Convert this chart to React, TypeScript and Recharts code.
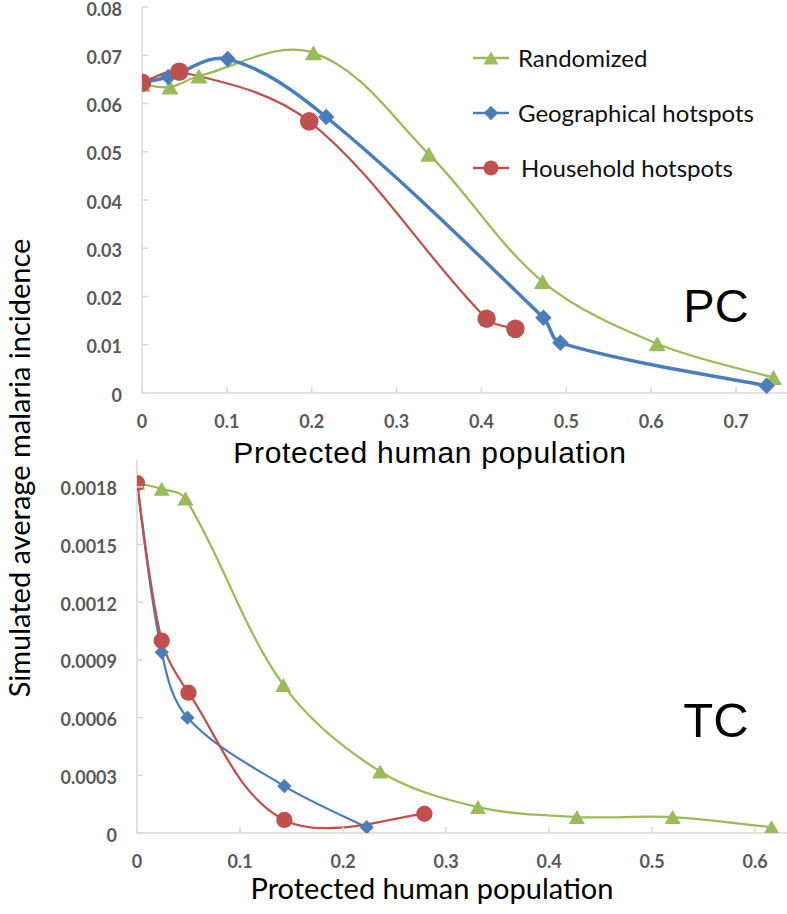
import React from 'react';
import { LineChart, Line, XAxis, YAxis, Legend } from 'recharts';

const seriesNames = ['Randomized', 'Geographical hotspots', 'Household hotspots'];
const seriesColors = ['#9bbb59', '#4a7ebb', '#c0504d'];
const seriesMarkers = ['triangle', 'diamond', 'circle'];

// PC panel
const pcRandomizedX = [0, 0.033, 0.067, 0.202, 0.338, 0.472, 0.607, 0.744];
const pcRandomizedY = [0.064, 0.0634, 0.0657, 0.0705, 0.0495, 0.0231, 0.0102, 0.0032];
const pcGeoX = [0, 0.031, 0.101, 0.217, 0.473, 0.493, 0.736];
const pcGeoY = [0.0643, 0.0655, 0.0692, 0.0572, 0.0156, 0.0104, 0.0015];
const pcHouseX = [0, 0.044, 0.197, 0.406, 0.44];
const pcHouseY = [0.0643, 0.0666, 0.0563, 0.0154, 0.0133];

// TC panel
const tcRandomizedX = [0, 0.024, 0.047, 0.142, 0.236, 0.331, 0.427, 0.52, 0.616];
const tcRandomizedY = [0.00182, 0.00179, 0.00174, 0.00077, 0.00032, 0.000135, 0.000083, 0.000083, 0.00003];
const tcGeoX = [0, 0.024, 0.049, 0.143, 0.223];
const tcGeoY = [0.00182, 0.00094, 0.0006, 0.000244, 0.00003];
const tcHouseX = [0, 0.024, 0.05, 0.143, 0.279];
const tcHouseY = [0.00182, 0.001, 0.00073, 0.000068, 0.0001];

const pcXTicks = [0, 0.1, 0.2, 0.3, 0.4, 0.5, 0.6, 0.7];
const pcYTicks = [0, 0.01, 0.02, 0.03, 0.04, 0.05, 0.06, 0.07, 0.08];
const tcXTicks = [0, 0.1, 0.2, 0.3, 0.4, 0.5, 0.6];
const tcYTicks = [0, 0.0003, 0.0006, 0.0009, 0.0012, 0.0015, 0.0018];

const xTitle = 'Protected human population';
const yTitle = 'Simulated average malaria incidence';

const zip = (xs: number[], ys: number[]) => xs.map((x, i) => ({ x, y: ys[i] }));

const pcSeries = [zip(pcRandomizedX, pcRandomizedY), zip(pcGeoX, pcGeoY), zip(pcHouseX, pcHouseY)];
const tcSeries = [zip(tcRandomizedX, tcRandomizedY), zip(tcGeoX, tcGeoY), zip(tcHouseX, tcHouseY)];

// Excel-like smoothed line: tangent direction from neighbours, length scaled by segment length
function excelCurve(context: any) {
  let pts: [number, number][] = [];
  const unit = (a: [number, number], b: [number, number]) => {
    const dx = b[0] - a[0];
    const dy = b[1] - a[1];
    const l = Math.hypot(dx, dy) || 1;
    return [dx / l, dy / l];
  };
  return {
    areaStart() {},
    areaEnd() {},
    lineStart() {
      pts = [];
    },
    lineEnd() {
      const n = pts.length;
      if (!n) return;
      context.moveTo(pts[0][0], pts[0][1]);
      if (n === 1) return;
      const tang = pts.map((p, i) => unit(pts[i > 0 ? i - 1 : i], pts[i < n - 1 ? i + 1 : i]));
      for (let i = 0; i < n - 1; i++) {
        const p1 = pts[i];
        const p2 = pts[i + 1];
        const L = Math.hypot(p2[0] - p1[0], p2[1] - p1[1]);
        const k1 = i === 0 ? L / 6 : L / 3;
        const k2 = i + 1 === n - 1 ? L / 6 : L / 3;
        context.bezierCurveTo(
          p1[0] + tang[i][0] * k1,
          p1[1] + tang[i][1] * k1,
          p2[0] - tang[i + 1][0] * k2,
          p2[1] - tang[i + 1][1] * k2,
          p2[0],
          p2[1]
        );
      }
    },
    point(x: number, y: number) {
      pts.push([+x, +y]);
    },
  };
}

function Marker({ kind, cx, cy, color, s }: { kind: string; cx: number; cy: number; color: string; s: number }) {
  if (kind === 'triangle') {
    const w = s * 1.15;
    const h = s;
    return <path d={`M${cx},${cy - h / 2}L${cx + w / 2},${cy + h / 2}L${cx - w / 2},${cy + h / 2}Z`} fill={color} />;
  }
  if (kind === 'diamond') {
    const r = s * 0.55;
    return <path d={`M${cx},${cy - r}L${cx + r},${cy}L${cx},${cy + r}L${cx - r},${cy}Z`} fill={color} />;
  }
  return <circle cx={cx} cy={cy} r={s * 0.58} fill={color} />;
}

const tickFont = { fontFamily: 'Lato', fontWeight: 700, fontSize: 18, fill: '#595959' };
const axisStroke = '#d9d9d9';

const makeXTick = (fmt: (v: number) => string) => (props: any) => {
  const { x, y, payload } = props;
  return (
    <g>
      <line x1={x} x2={x} y1={y} y2={y - 6} stroke={axisStroke} strokeWidth={1.5} />
      <text x={x} y={y + 28} textAnchor="middle" dominantBaseline="central" {...tickFont}>
        {fmt(payload.value)}
      </text>
    </g>
  );
};

const makeYTick = (fmt: (v: number) => string, gap: number) => (props: any) => {
  const { x, y, payload } = props;
  return (
    <g>
      <line x1={x} x2={x + 6} y1={y} y2={y} stroke={axisStroke} strokeWidth={1.5} />
      <text x={x - gap} y={y + 1.5} textAnchor="end" dominantBaseline="central" {...tickFont}>
        {fmt(payload.value)}
      </text>
    </g>
  );
};

const fmtX = (v: number) => (v === 0 ? '0' : v.toFixed(1));
const fmtPcY = (v: number) => (v === 0 ? '0' : v.toFixed(2));
const fmtTcY = (v: number) => (v === 0 ? '0' : v.toFixed(4));

const LegendContent = () => (
  <div style={{ fontFamily: 'Lato', fontSize: 24, color: '#111' }}>
    {seriesNames.map((name, i) => (
      <div key={name} style={{ height: 55, display: 'flex', alignItems: 'center' }}>
        <svg width={38} height={20} style={{ marginRight: i === 2 ? 11 : 8 }}>
          <line x1={1} x2={37} y1={10} y2={10} stroke={seriesColors[i]} strokeWidth={2.5} />
          <Marker kind={seriesMarkers[i]} cx={19} cy={10} color={seriesColors[i]} s={13} />
        </svg>
        <span>{name}</span>
      </div>
    ))}
  </div>
);

function renderLines(series: { x: number; y: number }[][], widths: number[], sizes: number[]) {
  return series.map((data, i) => (
    <Line
      key={seriesNames[i]}
      data={data}
      dataKey="y"
      name={seriesNames[i]}
      type={excelCurve as any}
      stroke={seriesColors[i]}
      strokeWidth={widths[i]}
      isAnimationActive={false}
      activeDot={false}
      dot={(p: any) =>
        p.cx == null || p.cy == null ? (
          <g key={`d${i}-${p.index}`} />
        ) : (
          <Marker key={`d${i}-${p.index}`} kind={seriesMarkers[i]} cx={p.cx} cy={p.cy} color={seriesColors[i]} s={sizes[i]} />
        )
      }
    />
  ));
}

export default function App() {
  return (
    <div style={{ position: 'relative', width: 787, height: 914, background: '#fff', overflow: 'hidden' }}>
      <style>{`body{margin:0}`}</style>
      <div style={{ position: 'absolute', left: 0, top: 0 }}>
        <LineChart width={787} height={480} margin={{ top: 7, right: 0, bottom: 0, left: 0 }} style={{ overflow: 'visible' }}>
          <XAxis
            type="number"
            dataKey="x"
            domain={[0, 0.76]}
            ticks={pcXTicks}
            interval={0}
            height={87}
            tickSize={0}
            tickMargin={0}
            tickLine={false}
            axisLine={{ stroke: axisStroke, strokeWidth: 1.5 }}
            tick={makeXTick(fmtX)}
            allowDataOverflow
          />
          <YAxis
            type="number"
            dataKey="y"
            domain={[0, 0.08]}
            ticks={pcYTicks}
            interval={0}
            width={142}
            tickSize={0}
            tickMargin={0}
            tickLine={false}
            axisLine={{ stroke: axisStroke, strokeWidth: 1.5 }}
            tick={makeYTick(fmtPcY, 20)}
          />
          <Legend
            layout="vertical"
            align="center"
            verticalAlign="middle"
            content={LegendContent as any}
            wrapperStyle={{ left: 472, top: 30, width: 315, height: 170 }}
          />
          {renderLines(pcSeries, [2.25, 3.5, 2.25], [15, 15, 16])}
        </LineChart>
      </div>
      <div style={{ position: 'absolute', left: 0, top: 440 }}>
        <LineChart width={787} height={474} margin={{ top: 20, right: 0, bottom: 0, left: 0 }}>
          <XAxis
            type="number"
            dataKey="x"
            domain={[0, 0.631]}
            ticks={tcXTicks}
            interval={0}
            height={81}
            tickSize={0}
            tickMargin={0}
            tickLine={false}
            axisLine={{ stroke: axisStroke, strokeWidth: 1.5 }}
            tick={makeXTick(fmtX)}
            allowDataOverflow
          />
          <YAxis
            type="number"
            dataKey="y"
            domain={[0, 0.00194]}
            ticks={tcYTicks}
            interval={0}
            width={137}
            tickSize={0}
            tickMargin={0}
            tickLine={false}
            axisLine={{ stroke: axisStroke, strokeWidth: 1.5 }}
            tick={makeYTick(fmtTcY, 20)}
            allowDataOverflow
          />
          {renderLines(tcSeries, [2.25, 2.25, 2.25], [14, 13, 14])}
        </LineChart>
      </div>
      <svg width={787} height={914} style={{ position: 'absolute', left: 0, top: 0, pointerEvents: 'none' }}>
        <text x={430} y={463} textAnchor="middle" fontFamily="Liberation Sans" fontSize={30} letterSpacing={0.7} fill="#000">
          {xTitle}
        </text>
        <text x={432} y={899} textAnchor="middle" fontFamily="Lato" fontSize={29} fill="#000">
          {xTitle}
        </text>
        <text transform="translate(30,468) rotate(-90)" textAnchor="middle" fontFamily="Lato" fontSize={29} fill="#000">
          {yTitle}
        </text>
        <text x={716} y={322} textAnchor="middle" fontFamily="Liberation Sans" fontSize={47} fill="#000">
          PC
        </text>
        <text x={716} y={737} textAnchor="middle" fontFamily="Liberation Sans" fontSize={49} fill="#000">
          TC
        </text>
      </svg>
    </div>
  );
}
